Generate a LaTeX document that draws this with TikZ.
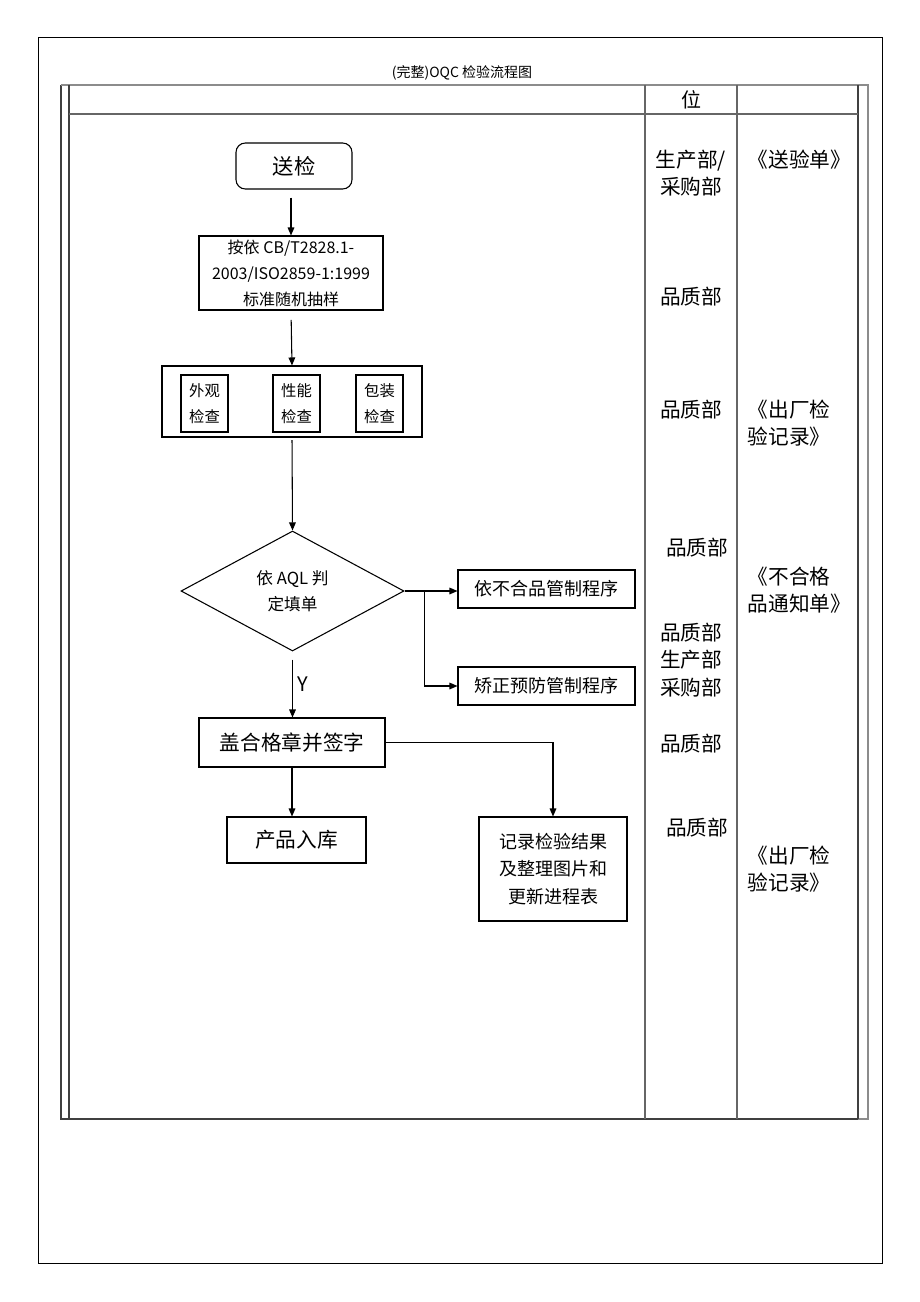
\documentclass[tikz,border=0pt]{standalone}
\usepackage{fontspec}
\setmainfont{Noto Sans CJK SC}
\usetikzlibrary{arrows.meta}
\usetikzlibrary{shapes.geometric}
\usetikzlibrary{calc}

\begin{document}
\begin{tikzpicture}[x=0.75pt,y=-0.75pt,
	box/.style={draw,line width=0.8pt,inner sep=2pt,align=center},
	arr/.style={-{Triangle[length=6pt,width=5pt]},line width=0.8pt},
	rule/.style={line width=1.1pt,black!75},
	dept/.style={align=center,font=\fontsize{15.5}{20.5}\selectfont},
	form/.style={anchor=west,align=left,font=\fontsize{15.5}{20.5}\selectfont}]

	\useasboundingbox (0,0) rectangle (920,1302);

	% page frame and table
	\draw[line width=0.7pt] (38,37) rectangle (882,1263);
	\node (title) at (462,73) {\fontsize{10.5}{12}\selectfont (完整)OQC 检验流程图};

	\draw[rule] (61,85) -- (61,1119) -- (858,1119);
	\draw[rule,black!45] (61,85) -- (868,85) -- (868,1119) -- (858,1119);
	\draw[rule] (69,85) -- (69,1119);
	\draw[rule] (858,85) -- (858,1119);
	\draw[rule,black!60] (69,114) -- (858,114);
	\draw[rule,black!60] (645,85) -- (645,1119);
	\draw[rule,black!60] (737,85) -- (737,1119);
	\node (head) at (691,100) {\fontsize{15}{16}\selectfont 位};

	% flow
	\node[box,rounded corners=7pt,minimum width=87pt,minimum height=34.5pt,font=\fontsize{16}{18}\selectfont] (send) at (294,166) {送检};
	\node[box,minimum width=138pt,minimum height=55.5pt,font=\fontsize{12}{19.5}\selectfont] (sample) at (291,273) {按依 CB/T2828.1-\\2003/ISO2859-1:1999\\标准随机抽样};
	\node[box,minimum width=195pt,minimum height=53.25pt] (check) at (292,401.5) {};
	\node[box,minimum width=35.25pt,minimum height=42.75pt,font=\fontsize{11.5}{19}\selectfont] (look) at (204.5,403.5) {外观\\检查};
	\node[box,minimum width=35.25pt,minimum height=42.75pt,font=\fontsize{11.5}{19}\selectfont] (perf) at (296.5,403.5) {性能\\检查};
	\node[box,minimum width=35.25pt,minimum height=42.75pt,font=\fontsize{11.5}{19}\selectfont] (pack) at (379.5,403.5) {包装\\检查};
	\node[box,diamond,inner sep=0pt,minimum width=167.25pt,minimum height=90pt,font=\fontsize{12.5}{19.5}\selectfont] (judge) at (292.5,591) {依 AQL 判\\定填单};
	\node[box,minimum width=132.75pt,minimum height=28.5pt,font=\fontsize{13.5}{15}\selectfont] (ng) at (546.5,589) {依不合品管制程序};
	\node[box,minimum width=132.75pt,minimum height=28.5pt,font=\fontsize{13.5}{15}\selectfont] (capa) at (546.5,686) {矫正预防管制程序};
	\node[box,minimum width=139.5pt,minimum height=36.75pt,font=\fontsize{15.5}{17}\selectfont] (stamp) at (292,742.5) {盖合格章并签字};
	\node[box,minimum width=104.25pt,minimum height=34.5pt,font=\fontsize{15.5}{17}\selectfont] (store) at (296.5,840) {产品入库};
	\node[box,minimum width=111pt,minimum height=78pt,font=\fontsize{13.5}{20.5}\selectfont] (record) at (553,869) {记录检验结果\\及整理图片和\\更新进程表};

	\draw[arr,shorten <=6pt] (send.south -| sample.north) -- (sample.north);
	\draw[arr,shorten <=7pt] (sample.south) -- (check.north);
	\draw[arr,shorten <=2pt] (check.south) -- (judge.north);
	\draw[arr,shorten <=6pt] (judge.south) -- (judge.south |- stamp.north) node[midway,right,font=\fontsize{15}{16}\selectfont] (yes) {Y};
	\draw[line width=0.8pt] (judge.east) -- ++(20,0) coordinate (split);
	\draw[arr] (split) -- (split -| ng.west);
	\draw[arr] (split) |- (capa.west);
	\draw[arr] (stamp.south) -- (stamp.south |- store.north);
	\draw[arr] (stamp.east) -| (record.north);

	% departments and forms
	\node[dept] (d1) at (691,173) {生产部/\\采购部};
	\node[dept] (d2) at (691,297) {品质部};
	\node[dept] (d3) at (691,410) {品质部};
	\node[dept] (d4) at (697,548) {品质部};
	\node[dept] (d5) at (691,660) {品质部\\生产部\\采购部};
	\node[dept] (d6) at (691,744) {品质部};
	\node[dept] (d7) at (697,828) {品质部};

	\node[form] (f1) at (743,160) {《送验单》};
	\node[form] (f2) at (743,423) {《出厂检\\验记录》};
	\node[form] (f3) at (743,590) {《不合格\\品通知单》};
	\node[form] (f4) at (743,869) {《出厂检\\验记录》};

\end{tikzpicture}
\end{document}
